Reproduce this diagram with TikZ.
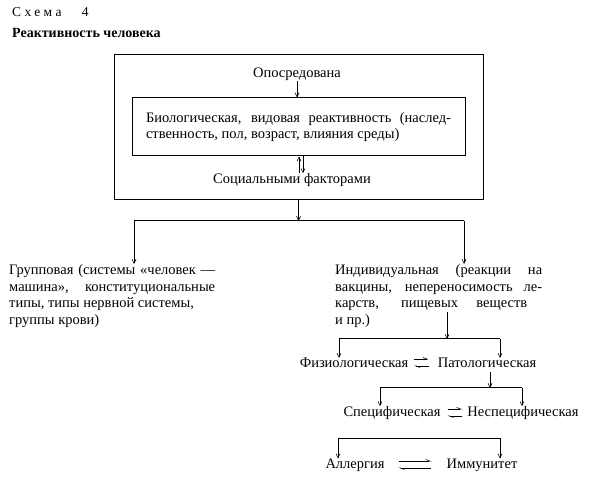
\documentclass[tikz,border=0pt]{standalone}
\usepackage{fontspec}
\setmainfont{Liberation Serif}
\newfontfamily\spacedfont[LetterSpace=25]{Liberation Serif}
\usetikzlibrary{arrows.meta,positioning}
\newcommand\schemefont{\fontsize{14.5}{16.8}\selectfont}
\tikzset{
  txt/.style={font=\schemefont, inner sep=0pt},
  box/.style={draw, line width=1pt},
  branch/.style={line width=1pt},
  arr/.style={line width=0.6pt, -{Straight Barb[length=4pt,width=4pt]}},
  harp/.style={line width=0.6pt, -{Straight Barb[harpoon,length=4pt,width=3pt]}},
}
\begin{document}
\begin{tikzpicture}[x=1pt,y=-1pt]
  \useasboundingbox (0,0) rectangle (600,486);
  % heading
  \node[txt, anchor=west, font=\fontsize{13.5}{15}\selectfont] (schema) at (12,12) {\spacedfont Схема\ \ \ 4};
  \node[txt, anchor=west, font=\fontsize{14}{15}\selectfont\bfseries] (title) at (12,33) {Реактивность человека};
  % boxes
  \node[box, minimum width=369, minimum height=145] (outer) at (298.5,127.5) {};
  \node[box, txt, font=\fontsize{14.5}{15.5}\selectfont, minimum width=333, minimum height=58, text width=305, align=justify] (bio) at (298.5,127)
    {Биологическая, видовая реактивность (наслед-\linebreak ственность, пол, возраст, влияния среды)};
  \node[txt] (oposr) at (297,74) {Опосредована};
  \node[txt] (social) at (292,180) {Социальными факторами};
  \draw[arr] (oposr.south) -- (oposr.south |- bio.north);
  \coordinate (sup) at ([xshift=7pt]social.north);
  \coordinate (sdown) at ([xshift=11pt]social.north);
  \draw[arr] (sup) -- (sup |- bio.south);
  \draw[arr] (sdown |- bio.south) -- (sdown);
  % first branching
  \coordinate (gl) at (134,221);
  \coordinate (gr) at (464,221);
  \draw[arr] (outer.south) -- (outer.south |- gl);
  \draw[branch] (gl) -- (gr);
  \node[txt, anchor=north west, text width=206, align=justify] (group) at (9,264)
    {Групповая (системы «человек —\linebreak машина», конституциональные\linebreak типы, типы нервной системы,\\ группы крови)};
  \node[txt, anchor=north west, text width=207, align=justify] (indiv) at (335,264)
    {Индивидуальная (реакции на\linebreak вакцины, непереносимость ле-\linebreak \makebox[192pt][s]{карств, пищевых веществ}\\ и пр.)};
  \draw[arr] (gl) -- (gl |- group.north);
  \draw[arr] (gr) -- (gr |- indiv.north);
  % physiological / pathological
  \coordinate (pst) at (447,312);
  \coordinate (pl) at (339,339);
  \coordinate (pr) at (500,339);
  \draw[arr] (pst) -- (pst |- pl);
  \draw[branch] (pl) -- (pr);
  \node[txt] (fiz) at (354,363) {Физиологическая};
  \node[txt] (pat) at (487,363) {Патологическая};
  \draw[arr] (pl) -- (pl |- fiz.north);
  \draw[arr] (pr) -- (pr |- pat.north);
  \draw[harp] ([xshift=6pt,yshift=4pt]fiz.east) -- ([xshift=-9pt,yshift=4pt]pat.west);
  \draw[harp] ([xshift=-9pt,yshift=-3pt]pat.west) -- ([xshift=6pt,yshift=-3pt]fiz.east);
  % specific / nonspecific
  \coordinate (sst) at (490,372);
  \coordinate (sl) at (380,388);
  \coordinate (sr) at (522,388);
  \draw[arr] (sst) -- (sst |- sl);
  \draw[branch] (sl) -- (sr);
  \node[txt] (spec) at (392,413) {Специфическая};
  \node[txt] (nspec) at (523,413) {Неспецифическая};
  \draw[arr] (sl) -- (sl |- spec.north);
  \draw[arr] (sr) -- (sr |- nspec.north);
  \draw[harp] ([xshift=7pt,yshift=4pt]spec.east) -- ([xshift=-5pt,yshift=4pt]nspec.west);
  \draw[harp] ([xshift=-5pt,yshift=-3pt]nspec.west) -- ([xshift=7pt,yshift=-3pt]spec.east);
  % allergy / immunity
  \coordinate (al) at (338,438);
  \coordinate (ar) at (500,438);
  \draw[branch] (al) -- (ar);
  \node[txt] (allerg) at (355,465) {Аллергия};
  \node[txt] (immun) at (482,465) {Иммунитет};
  \draw[arr] (al) -- (al |- allerg.north);
  \draw[arr] (ar) -- (ar |- immun.north);
  \draw[harp] ([xshift=14pt,yshift=4pt]allerg.east) -- ([xshift=-15pt,yshift=4pt]immun.west);
  \draw[harp] ([xshift=-15pt,yshift=-3pt]immun.west) -- ([xshift=14pt,yshift=-3pt]allerg.east);
\end{tikzpicture}
\end{document}
